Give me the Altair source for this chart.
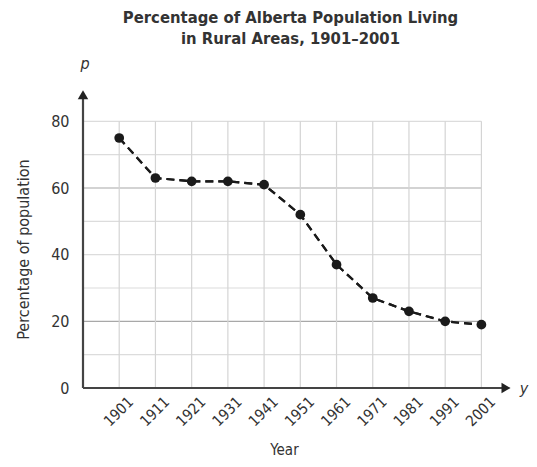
import altair as alt
import pandas as pd

years = [1901, 1911, 1921, 1931, 1941, 1951, 1961, 1971, 1981, 1991, 2001]
percent = [75, 63, 62, 62, 61, 52, 37, 27, 23, 20, 19]
y_ticks = [0, 20, 40, 60, 80]
grid_levels = [10, 20, 30, 40, 50, 60, 70, 80]
dark_levels = [20, 60]

X0, X1, XEND = 1891, 2001, 2010
Y1, YEND = 80, 90

df = pd.DataFrame({"year": years, "p": percent})
hgrid = pd.DataFrame({"lvl": grid_levels, "x0": X0, "x1": X1,
                      "dark": [l in dark_levels for l in grid_levels]})
vgrid = pd.DataFrame({"year": years, "y0": 0, "y1": Y1})

FONT = "DejaVu Sans Condensed"

xs = alt.Scale(domain=[X0, XEND], nice=False, zero=False)
ys = alt.Scale(domain=[0, YEND], nice=False)

base = alt.Chart(df)

hg = alt.Chart(hgrid).mark_rule(strokeWidth=1.2).encode(
    x=alt.X("x0:Q", scale=xs),
    x2="x1:Q",
    y=alt.Y("lvl:Q", scale=ys),
    color=alt.Color("dark:N", scale=alt.Scale(domain=[True, False], range=["#a8a8a8", "#dcdcdc"]), legend=None),
)
vg = alt.Chart(vgrid).mark_rule(strokeWidth=1.2, color="#d4d4d4").encode(
    x=alt.X("year:Q", scale=xs),
    y=alt.Y("y0:Q", scale=ys),
    y2="y1:Q",
)

xaxis_line = alt.Chart(pd.DataFrame({"a": [X0], "b": [XEND - 2.0], "v": [0]})).mark_rule(
    strokeWidth=2.2, color="#444444").encode(
    x=alt.X("a:Q", scale=xs), x2="b:Q", y=alt.Y("v:Q", scale=ys))
yaxis_line = alt.Chart(pd.DataFrame({"a": [X0], "v0": [0], "v1": [YEND - 2.0]})).mark_rule(
    strokeWidth=2.2, color="#444444").encode(
    x=alt.X("a:Q", scale=xs), y=alt.Y("v0:Q", scale=ys), y2="v1:Q")

arrow_up = alt.Chart(pd.DataFrame({"a": [X0], "v": [YEND - 2.0]})).mark_point(
    shape="triangle-up", filled=True, color="#222222", size=110, opacity=1).encode(
    x=alt.X("a:Q", scale=xs), y=alt.Y("v:Q", scale=ys))
arrow_right = alt.Chart(pd.DataFrame({"a": [XEND - 2.2], "v": [0]})).mark_point(
    shape="triangle-right", filled=True, color="#222222", size=110, opacity=1).encode(
    x=alt.X("a:Q", scale=xs), y=alt.Y("v:Q", scale=ys))

line = base.mark_line(strokeDash=[8, 5], strokeWidth=2.2, color="#1a1a1a").encode(
    x=alt.X("year:Q", scale=xs,
            axis=alt.Axis(values=years, format="d", labelAngle=-45, labelFont=FONT, labelFontSize=15,
                          labelColor="#333333", domain=False, ticks=False, grid=False,
                          labelPadding=6, labelOffset=6, title="Year", titleFont=FONT,
                          titleFontSize=15, titleFontWeight="normal", titleColor="#333333",
                          titleX=201, titleY=61, titleBaseline="middle", titleAlign="center")),
    y=alt.Y("p:Q", scale=ys,
            axis=alt.Axis(values=y_ticks, labelFont=FONT, labelFontSize=16, labelColor="#333333",
                          domain=False, ticks=False, grid=False, labelPadding=14,
                          title="Percentage of population", titleFont=FONT, titleFontSize=16,
                          titleFontWeight="normal", titleColor="#333333", titleAngle=-90,
                          titleX=-60, titleY=161, titleAlign="center", titleBaseline="middle")),
)
pts = base.mark_circle(size=95, color="#1a1a1a", opacity=1).encode(
    x=alt.X("year:Q", scale=xs), y=alt.Y("p:Q", scale=ys))

lbl_p = alt.Chart(pd.DataFrame({"a": [X0], "v": [YEND], "t": ["p"]})).mark_text(
    font=FONT, fontSize=16, fontStyle="italic", dy=-24, dx=2, color="#333333").encode(
    x=alt.X("a:Q", scale=xs), y=alt.Y("v:Q", scale=ys), text="t:N")
lbl_y = alt.Chart(pd.DataFrame({"a": [XEND], "v": [0], "t": ["y"]})).mark_text(
    font=FONT, fontSize=16, fontStyle="italic", dx=10, dy=1, color="#333333").encode(
    x=alt.X("a:Q", scale=xs), y=alt.Y("v:Q", scale=ys), text="t:N")

chart = alt.layer(line, hg, vg, xaxis_line, yaxis_line, arrow_up, arrow_right, line, pts, lbl_p, lbl_y).properties(
    width=431, height=300,
    autosize=alt.AutoSizeParams(type="none"),
    padding={"left": 75, "top": 80, "right": 15, "bottom": 71},
    title=alt.TitleParams(
        text=["Percentage of Alberta Population Living", "in Rural Areas, 1901\u20132001"],
        font=FONT, fontSize=16.5, fontWeight="bold", color="#333333", anchor="middle",
        offset=9, dx=-8, lineHeight=21),
).configure_view(stroke=None)

chart.save("out.html", embed_options={"renderer": "svg", "actions": False})
